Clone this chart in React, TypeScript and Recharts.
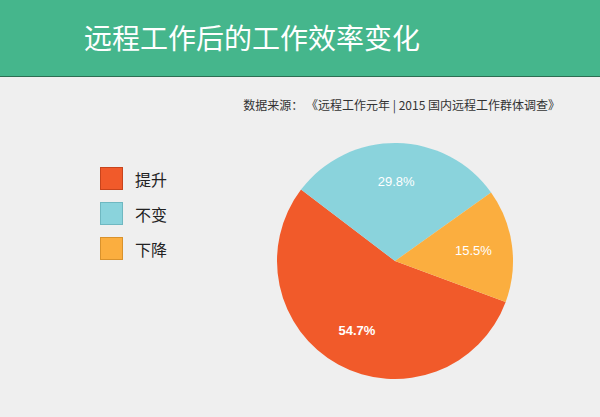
import React from "react";
import { PieChart, Pie, Cell } from "recharts";

const categories = ["提升", "不变", "下降"];
const shares = [54.7, 29.8, 15.5];
const colors = ["#f15a2a", "#8ad3dc", "#fbae3f"];
const borders = ["#c8441c", "#6fb8c1", "#d9922c"];

const title = "远程工作后的工作效率变化";
const source = "数据来源： 《远程工作元年 | 2015 国内远程工作群体调查》";

const data = categories.map((name, i) => ({ name, value: shares[i] }));

const RAD = Math.PI / 180;
const CJK = '"Noto Sans CJK SC", "Noto Sans", sans-serif';

function renderLabel(props: any) {
  const { cx, cy, midAngle, outerRadius, value, index } = props;
  const r = outerRadius * 0.67;
  const x = cx + r * Math.cos(-midAngle * RAD);
  const y = cy + r * Math.sin(-midAngle * RAD);
  return (
    <text
      x={x}
      y={y}
      fill="#ffffff"
      textAnchor="middle"
      dominantBaseline="central"
      fontSize={13}
      fontWeight={index === 0 ? 600 : 400}
      fontFamily='"Liberation Sans", Arial, sans-serif'
    >
      {`${value.toFixed(1)}%`}
    </text>
  );
}

export default function App() {
  return (
    <div
      style={{
        position: "absolute",
        left: 0,
        top: 0,
        width: 600,
        height: 417,
        background: "#efefef",
        overflow: "hidden",
        fontFamily: CJK,
      }}
    >
      {/* header band */}
      <div
        style={{
          position: "absolute",
          left: 0,
          top: 0,
          width: 600,
          height: 76,
          background: "#45b68c",
          borderBottom: "1px solid #2c6e52",
        }}
      />
      <div
        style={{
          position: "absolute",
          left: 84,
          top: 22,
          fontSize: 28,
          lineHeight: "30px",
          color: "#ffffff",
          whiteSpace: "nowrap",
        }}
      >
        {title}
      </div>
      <div
        style={{
          position: "absolute",
          right: 40,
          top: 97,
          fontSize: 12,
          lineHeight: "16px",
          color: "#333333",
          whiteSpace: "nowrap",
        }}
      >
        {source}
      </div>

      {/* legend */}
      {categories.map((name, i) => (
        <div
          key={name}
          style={{
            position: "absolute",
            left: 100,
            top: 167 + i * 35,
            height: 23,
            display: "flex",
            alignItems: "center",
          }}
        >
          <div
            style={{
              width: 21,
              height: 21,
              background: colors[i],
              border: `1px solid ${borders[i]}`,
            }}
          />
          <span
            style={{
              marginLeft: 12,
              fontSize: 16,
              color: "#222222",
            }}
          >
            {name}
          </span>
        </div>
      ))}

      <div style={{ position: "absolute", left: 0, top: 0 }}>
        <PieChart
          width={600}
          height={417}
          margin={{ top: 0, right: 0, bottom: 0, left: 0 }}
        >
          <Pie
            data={data}
            dataKey="value"
            nameKey="name"
            cx={395}
            cy={261}
            outerRadius={118}
            startAngle={-20.3}
            endAngle={-380.3}
            label={renderLabel}
            labelLine={false}
            stroke="none"
            isAnimationActive={false}
          >
            {data.map((entry, i) => (
              <Cell key={entry.name} fill={colors[i]} />
            ))}
          </Pie>
        </PieChart>
      </div>
    </div>
  );
}
